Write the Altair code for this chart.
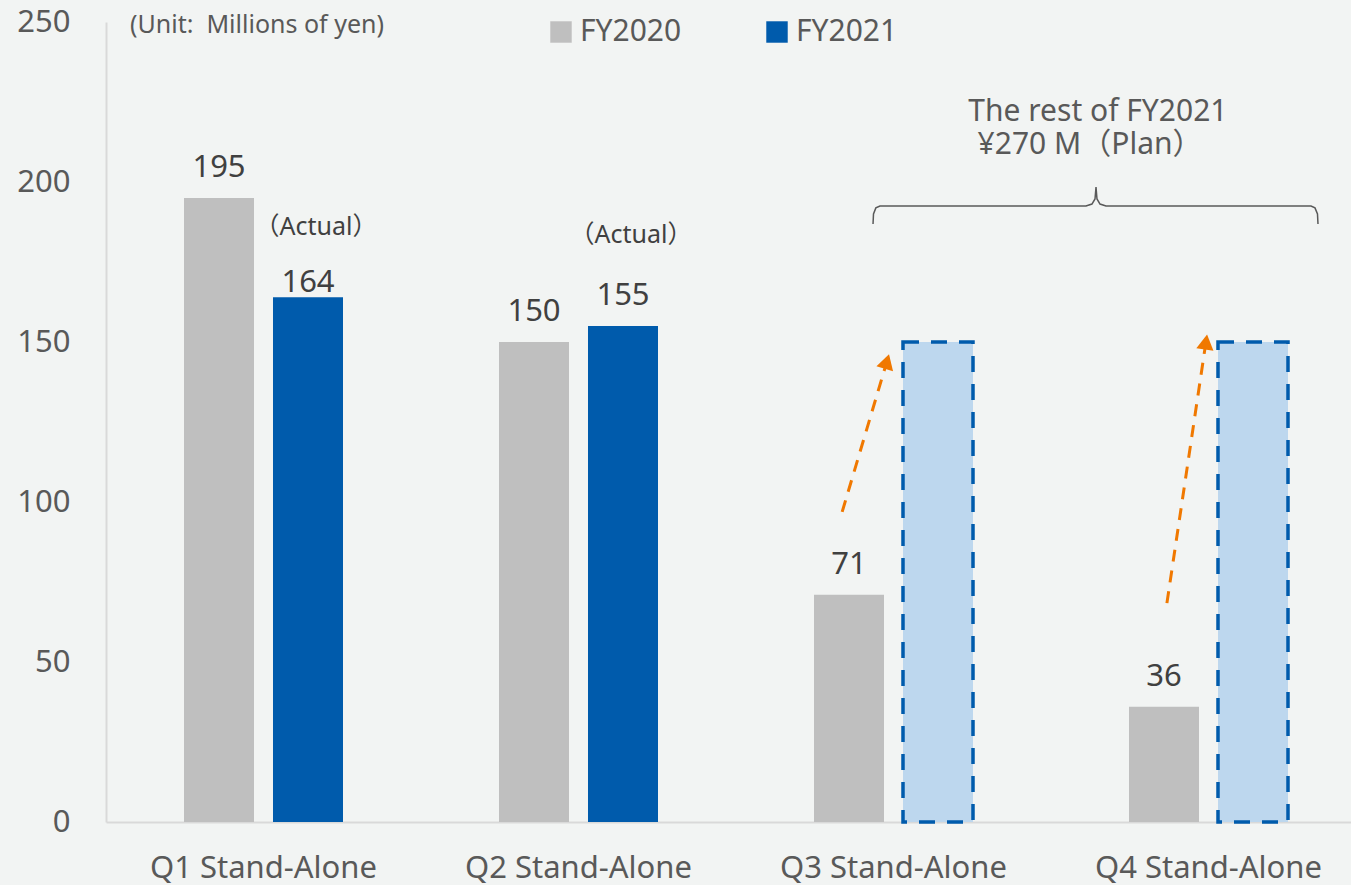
import math
import altair as alt
import pandas as pd

# ---------------- data ----------------
quarters = ["Q1 Stand-Alone", "Q2 Stand-Alone", "Q3 Stand-Alone", "Q4 Stand-Alone"]
series_names = ["FY2020", "FY2021"]
fy2020_values = [195, 150, 71, 36]
fy2021_actual = [164, 155]          # Q1, Q2 actual
fy2021_plan = [150, 150]            # Q3, Q4 plan bars
y_ticks = [0, 50, 100, 150, 200, 250]

actual_note_quarters = ["Q1 Stand-Alone", "Q2 Stand-Alone"]
actual_note_y = [183.5, 181.0]

# annotation positions (x in category units 0..4, y in value units)
arrow_x1 = [2.337, 3.368]
arrow_y1 = [96.9, 68.4]
arrow_x2 = [2.473, 3.489]
arrow_y2 = [141.9, 148.1]
head_x = [2.479, 3.492]
head_y = [143.9, 150.0]

brace_x = [2.435, 2.4365, 2.444, 2.457, 3.111, 3.130, 3.1397, 3.1429, 3.146,
           3.1556, 3.1746, 3.8254, 3.838, 3.846, 3.8476]
brace_y = [186.9, 190.0, 191.9, 192.5, 192.5, 193.1, 194.7, 198.4, 194.7,
           193.1, 192.5, 192.5, 191.9, 190.0, 186.9]

note_texts = ["The rest of FY2021", "¥270 M（Plan）"]
note_x = [3.149, 3.124]
note_y = [219.1, 208.6]

unit_text = "(Unit:\u00a0\u00a0Millions of yen)"

# ---------------- styling ----------------
BG = "#F2F4F3"
GREY = "#BFBFBF"
BLUE = "#005BAC"
LIGHT = "#BDD7EE"
ORANGE = "#F07800"
AXIS_TXT = "#595959"
VAL_TXT = "#404040"
FONT = "Noto Sans, Noto Sans CJK JP, sans-serif"
RANGE_W = 1260
PX_X = RANGE_W / 4.0
PX_Y = 800 / 250.0

# ---------------- tables ----------------
bars = pd.DataFrame(
    {"quarter": quarters, "series": "FY2020", "value": fy2020_values}
)
bars = pd.concat([
    bars,
    pd.DataFrame({"quarter": quarters[:2], "series": "FY2021", "value": fy2021_actual}),
], ignore_index=True)
plan = pd.DataFrame({"quarter": quarters[2:], "series": "FY2021", "value": fy2021_plan})
actual_notes = pd.DataFrame({"quarter": actual_note_quarters, "series": "FY2021",
                             "value": actual_note_y, "label": "（Actual）"})
arrows = pd.DataFrame({"x1": arrow_x1, "y1": arrow_y1, "x2": arrow_x2, "y2": arrow_y2,
                       "hx": head_x, "hy": head_y})
arrows["angle"] = [
    math.degrees(math.atan2((b - a) * PX_X, (d - c) * PX_Y))
    for a, b, c, d in zip(arrow_x1, arrow_x2, arrow_y1, arrow_y2)
]
brace = pd.DataFrame({"bx": brace_x, "by": brace_y, "order": list(range(len(brace_x)))})
notes = pd.DataFrame({"nx": note_x, "ny": note_y, "text": note_texts})

yscale = alt.Scale(domain=[0, 250], nice=False, zero=True)
xband = alt.Scale(domain=quarters, range=[0, RANGE_W], paddingInner=0, paddingOuter=0)
xoff = alt.Scale(domain=series_names, paddingInner=0.21348, paddingOuter=0.8764)
xq = alt.Scale(domain=[0, 4], range=[0, RANGE_W], nice=False, zero=False)

X = alt.X("quarter:N", scale=xband, sort=quarters, title=None)
XO = alt.XOffset("series:N", scale=xoff, sort=series_names)

bar_layer = alt.Chart(bars).mark_bar().encode(
    x=X, xOffset=XO,
    y=alt.Y("value:Q", scale=yscale, title=None, axis=alt.Axis(values=y_ticks)),
    color=alt.Color(
        "series:N",
        scale=alt.Scale(domain=series_names, range=[GREY, BLUE]),
        legend=alt.Legend(
            orient="none", legendX=440, legendY=-5, direction="horizontal",
            title=None, symbolType="square", symbolSize=460, symbolStrokeWidth=0,
            labelFontSize=30, labelColor=AXIS_TXT, labelFont=FONT,
            columnPadding=80, labelOffset=4,
        ),
    ),
)

plan_layer = alt.Chart(plan).mark_bar(
    fill=LIGHT, stroke=BLUE, strokeWidth=3.5, strokeDash=[16, 12]
).encode(x=X, xOffset=XO, y=alt.Y("value:Q", scale=yscale, title=None))

label_main = alt.Chart(bars).transform_filter(
    "!(datum.quarter == 'Q1 Stand-Alone' && datum.series == 'FY2021')"
).mark_text(baseline="alphabetic", dy=-21, fontSize=31, color=VAL_TXT, font=FONT).encode(
    x=X, xOffset=XO, y=alt.Y("value:Q", scale=yscale, title=None), text="value:Q"
)
label_q1 = alt.Chart(bars).transform_filter(
    "datum.quarter == 'Q1 Stand-Alone' && datum.series == 'FY2021'"
).mark_text(baseline="alphabetic", dy=-5, fontSize=31, color=VAL_TXT, font=FONT).encode(
    x=X, xOffset=XO, y=alt.Y("value:Q", scale=yscale, title=None), text="value:Q"
)
actual_layer = alt.Chart(actual_notes).mark_text(
    baseline="alphabetic", dx=8, fontSize=25, color=VAL_TXT, font=FONT
).encode(x=X, xOffset=XO, y=alt.Y("value:Q", scale=yscale, title=None), text="label:N")

band_group = alt.layer(bar_layer, plan_layer, label_main, label_q1, actual_layer)

AX = dict(scale=xq, axis=None, title=None)
arrow_rules = alt.Chart(arrows).mark_rule(
    color=ORANGE, strokeWidth=3, strokeDash=[12, 9]
).encode(
    x=alt.X("x1:Q", **AX), x2="x2:Q",
    y=alt.Y("y1:Q", scale=yscale, title=None), y2="y2:Q",
)
arrow_heads = alt.Chart(arrows).mark_point(
    shape="triangle-up", filled=True, size=300, color=ORANGE, opacity=1
).encode(
    x=alt.X("hx:Q", **AX), y=alt.Y("hy:Q", scale=yscale, title=None),
    angle=alt.Angle("angle:Q", scale=None),
)
brace_layer = alt.Chart(brace).mark_line(color=AXIS_TXT, strokeWidth=1.5).encode(
    x=alt.X("bx:Q", **AX), y=alt.Y("by:Q", scale=yscale, title=None), order="order:Q"
)
note_layer = alt.Chart(notes).mark_text(
    baseline="alphabetic", align="center", fontSize=30, color=AXIS_TXT, font=FONT,
).encode(
    x=alt.X("nx:Q", **AX), y=alt.Y("ny:Q", scale=yscale, title=None), text="text:N"
)
unit_layer = alt.Chart(pd.DataFrame({"t": [unit_text]})).mark_text(
    align="left", baseline="alphabetic", fontSize=25, color=AXIS_TXT, font=FONT
).encode(x=alt.value(24), y=alt.value(11), text="t:N")

ann_group = alt.layer(arrow_rules, arrow_heads, brace_layer, note_layer, unit_layer)

chart = alt.layer(band_group, ann_group).resolve_scale(x="independent").properties(
    width=1245, height=800,
    autosize=alt.AutoSizeParams(type="none"),
    padding={"left": 106, "top": 22, "right": 0, "bottom": 63},
    background=BG,
).configure_view(stroke=None).configure_axisY(
    grid=False, ticks=False, domain=True, domainColor="#D9D9D9", domainWidth=2,
    labelFontSize=31, labelColor=AXIS_TXT, labelPadding=36, labelFont=FONT,
).configure_axisX(
    grid=False, ticks=False, domain=True, domainColor="#D9D9D9", domainWidth=2,
    labelFontSize=31, labelColor=AXIS_TXT, labelPadding=31, labelFont=FONT, labelAngle=0,
    labelLimit=0,
)

chart.save("out.html", embed_options={"renderer": "svg", "actions": False})
